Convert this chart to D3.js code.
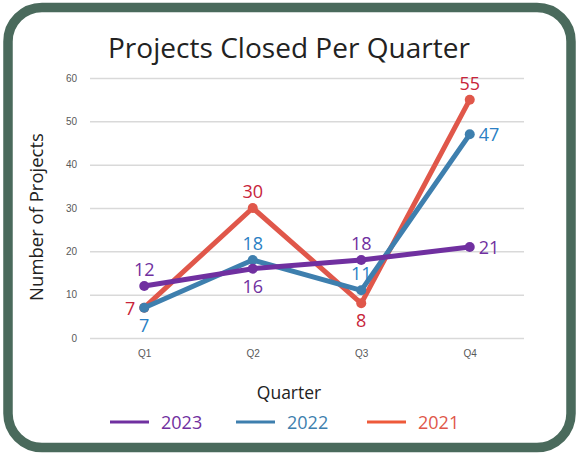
<!DOCTYPE html>
<html>
<head>
<meta charset="utf-8">
<script src="https://cdn.jsdelivr.net/npm/d3@7"></script>
<style>
  html, body { margin: 0; padding: 0; background: #fff; }
  svg { display: block; font-family: "Open Sans", "Noto Sans", sans-serif; }
</style>
</head>
<body>
<div id="chart"></div>
<script>
// chart data
var quarters = ['Q1', 'Q2', 'Q3', 'Q4'];
var years = ['2023', '2022', '2021'];
var values2023 = [12, 16, 18, 21];
var values2022 = [7, 18, 11, 47];
var values2021 = [7, 30, 8, 55];
var yTicks = [0, 10, 20, 30, 40, 50, 60];
// where each value label sits relative to its point
var labelPos2023 = ['top', 'bottom', 'top', 'right'];
var labelPos2022 = ['bottom', 'top', 'top', 'right'];
var labelPos2021 = ['left', 'top', 'bottom', 'top'];

var width = 579;
var height = 453;
var margin = { top: 78, right: 55, bottom: 115, left: 90 };

var series = [
  { name: '2021', values: values2021, pos: labelPos2021, color: '#e0574a', legendColor: '#ee5a3a', labelColor: '#c8243a', legendText: '#e0574a' },
  { name: '2022', values: values2022, pos: labelPos2022, color: '#3e7fae', legendColor: '#3e7fae', labelColor: '#2b7fc4', legendText: '#3e7fae' },
  { name: '2023', values: values2023, pos: labelPos2023, color: '#7030a0', legendColor: '#7030a0', labelColor: '#7030a0', legendText: '#7030a0' }
];

var svg = d3.select('#chart')
  .append('svg')
  .attr('width', width)
  .attr('height', height);

// rounded frame
svg.append('rect')
  .attr('x', 8)
  .attr('y', 7.5)
  .attr('width', width - 16)
  .attr('height', height - 13)
  .attr('rx', 34)
  .attr('fill', '#fff')
  .attr('stroke', '#4a6a5c')
  .attr('stroke-width', 9.5);

var x = d3.scalePoint()
  .domain(quarters)
  .range([margin.left, width - margin.right])
  .padding(0.5);

var y = d3.scaleLinear()
  .domain([0, 60])
  .range([height - margin.bottom, margin.top]);

// gridlines + y axis
var yAxis = g => g
  .attr('transform', `translate(${margin.left},0)`)
  .call(d3.axisLeft(y)
    .tickValues(yTicks)
    .tickSize(-(width - margin.left - margin.right))
    .tickPadding(13))
  .call(g => g.select('.domain').remove())
  .call(g => g.selectAll('.tick line').attr('stroke', '#d9d9d9').attr('stroke-width', 1.5))
  .call(g => g.selectAll('.tick text').attr('fill', '#595959').attr('font-size', 10));

svg.append('g').call(yAxis);

var xAxis = g => g
  .attr('transform', `translate(0,${height - margin.bottom})`)
  .call(d3.axisBottom(x).tickSize(0).tickPadding(12))
  .call(g => g.select('.domain').remove())
  .call(g => g.selectAll('.tick text').attr('fill', '#595959').attr('font-size', 10));

svg.append('g').call(xAxis);

// title and axis labels
svg.append('text')
  .attr('x', 289)
  .attr('y', 58)
  .attr('text-anchor', 'middle')
  .attr('font-size', 28)
  .attr('fill', '#222')
  .attr('textLength', 362)
  .text('Projects Closed Per Quarter');

svg.append('text')
  .attr('transform', 'translate(43,217) rotate(-90)')
  .attr('text-anchor', 'middle')
  .attr('font-size', 18.5)
  .attr('fill', '#222')
  .text('Number of Projects');

svg.append('text')
  .attr('x', 289)
  .attr('y', 399)
  .attr('text-anchor', 'middle')
  .attr('font-size', 17.5)
  .attr('fill', '#222')
  .text('Quarter');

// lines
var line = d3.line()
  .x((d, i) => x(quarters[i]))
  .y(d => y(d));

series.forEach(s => {
  var g = svg.append('g');
  g.append('path')
    .datum(s.values)
    .attr('d', line)
    .attr('fill', 'none')
    .attr('stroke', s.color)
    .attr('stroke-width', 5)
    .attr('stroke-linejoin', 'round');
  g.selectAll('circle')
    .data(s.values)
    .enter()
    .append('circle')
    .attr('cx', (d, i) => x(quarters[i]))
    .attr('cy', d => y(d))
    .attr('r', 5)
    .attr('fill', s.color);
});

// value labels
series.forEach(s => {
  svg.append('g')
    .selectAll('text')
    .data(s.values)
    .enter()
    .append('text')
    .attr('x', (d, i) => {
      var p = s.pos[i];
      return x(quarters[i]) + (p === 'right' ? 9 : p === 'left' ? -9 : 0);
    })
    .attr('y', (d, i) => {
      var p = s.pos[i];
      return y(d) + (p === 'top' ? -10 : p === 'bottom' ? 24 : 7);
    })
    .attr('text-anchor', (d, i) => s.pos[i] === 'right' ? 'start' : s.pos[i] === 'left' ? 'end' : 'middle')
    .attr('font-size', 18)
    .attr('fill', s.labelColor)
    .text(d => d);
});

// legend
var legend = svg.append('g').attr('transform', 'translate(0,422)');
var legendX = [110, 236, 367];
years.forEach((yr, i) => {
  var s = series.find(d => d.name === yr);
  legend.append('line')
    .attr('x1', legendX[i])
    .attr('x2', legendX[i] + 39)
    .attr('y1', 0)
    .attr('y2', 0)
    .attr('stroke', s.legendColor)
    .attr('stroke-width', 3);
  legend.append('text')
    .attr('x', legendX[i] + 51)
    .attr('y', 7)
    .attr('font-size', 18)
    .attr('fill', s.legendText)
    .text(yr);
});
</script>
</body>
</html>
